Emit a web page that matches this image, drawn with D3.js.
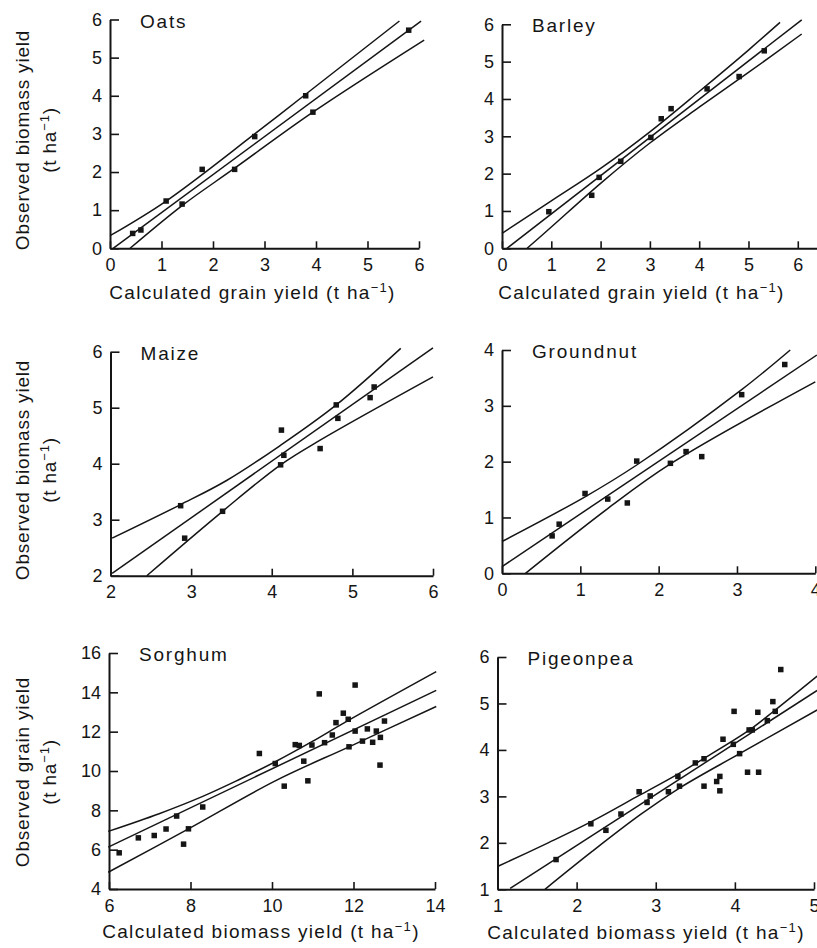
<!DOCTYPE html>
<html>
<head>
<meta charset="utf-8">
<script src="https://cdn.jsdelivr.net/npm/d3@7"></script>
<style>
  html, body { margin: 0; padding: 0; background: #fff; }
  svg { display: block; }
</style>
</head>
<body>
<svg id="chart" width="817" height="948"></svg>
<script>
// ---------- Oats ----------
const oatsCalc = [0.44, 0.60, 1.09, 1.40, 1.79, 2.42, 2.81, 3.80, 3.94, 5.80];
const oatsObs  = [0.39, 0.48, 1.24, 1.16, 2.07, 2.07, 2.93, 4.00, 3.57, 5.72];
const oatsFit   = [[0.06, 0.00], [6.04, 5.96]];
const oatsUpper = [[0.00, 0.33], [1.09, 1.24], [2.81, 3.00], [3.80, 4.04], [5.62, 5.96]];
const oatsLower = [[0.39, 0.00], [1.40, 1.12], [2.42, 2.10], [3.94, 3.57], [6.10, 5.46]];

// ---------- Barley ----------
const barleyCalc = [0.95, 1.82, 1.97, 2.41, 3.02, 3.23, 3.43, 4.16, 4.81, 5.32];
const barleyObs  = [0.98, 1.42, 1.90, 2.33, 2.97, 3.47, 3.74, 4.27, 4.60, 5.29];
const barleyFit   = [[0.10, 0.00], [6.08, 6.12]];
const barleyUpper = [[0.00, 0.40], [1.00, 1.27], [2.00, 2.14], [3.00, 3.12], [4.00, 4.20], [5.00, 5.31], [5.64, 6.05]];
const barleyLower = [[0.51, 0.00], [1.00, 0.57], [2.00, 1.74], [3.00, 2.82], [4.00, 3.78], [5.00, 4.71], [6.08, 5.74]];

// ---------- Maize ----------
const maizeCalc = [2.87, 2.92, 3.39, 4.12, 4.15, 4.11, 4.60, 4.80, 4.82, 5.22, 5.27];
const maizeObs  = [3.25, 2.67, 3.15, 4.60, 4.15, 3.98, 4.27, 5.05, 4.81, 5.18, 5.37];
const maizeFit   = [[2.02, 2.04], [6.00, 6.07]];
const maizeUpper = [[2.02, 2.67], [2.87, 3.27], [3.44, 3.70], [4.10, 4.32], [4.80, 5.05], [5.60, 6.06]];
const maizeLower = [[2.45, 2.00], [3.39, 3.15], [4.11, 3.98], [4.60, 4.42], [6.00, 5.55]];

// ---------- Groundnut ----------
const groundnutCalc = [0.64, 0.73, 1.06, 1.35, 1.60, 1.72, 2.15, 2.35, 2.55, 3.06, 3.61];
const groundnutObs  = [0.67, 0.88, 1.43, 1.33, 1.26, 2.01, 1.97, 2.18, 2.09, 3.20, 3.74];
const groundnutFit   = [[0.00, 0.12], [4.02, 3.91]];
const groundnutUpper = [[0.00, 0.57], [1.06, 1.37], [1.72, 1.94], [3.06, 3.29], [3.68, 4.00]];
const groundnutLower = [[0.30, 0.00], [1.35, 1.16], [2.15, 1.96], [4.00, 3.43]];

// ---------- Sorghum ----------
const sorghumCalc = [6.25, 6.72, 7.11, 7.40, 7.66, 7.83, 7.95, 8.30, 9.69, 10.08, 10.30,
                     10.57, 10.67, 10.78, 10.88, 10.98, 11.16, 11.29, 11.48, 11.57, 11.75,
                     11.87, 11.89, 12.04, 12.04, 12.22, 12.34, 12.47, 12.56, 12.66, 12.65, 12.76];
const sorghumObs  = [5.84, 6.60, 6.72, 7.05, 7.71, 6.28, 7.06, 8.17, 10.89, 10.38, 9.23,
                     11.34, 11.30, 10.50, 9.50, 11.32, 13.92, 11.44, 11.83, 12.46, 12.94,
                     12.63, 11.23, 14.37, 12.03, 11.52, 12.14, 11.46, 12.03, 11.71, 10.30, 12.54];
const sorghumFit   = [[5.98, 6.13], [14.03, 14.10]];
const sorghumUpper = [[5.98, 6.93], [7.23, 7.83], [8.30, 8.71], [9.16, 9.53], [10.08, 10.47],
                      [10.98, 11.49], [11.78, 12.46], [14.03, 15.05]];
const sorghumLower = [[5.98, 4.85], [7.95, 7.06], [10.08, 9.50], [11.89, 11.23], [14.03, 13.28]];

// ---------- Pigeonpea ----------
const pigeonpeaCalc = [1.74, 2.18, 2.37, 2.56, 2.79, 2.89, 2.93, 3.16, 3.28, 3.30, 3.50,
                       3.61, 3.61, 3.77, 3.81, 3.81, 3.85, 3.99, 3.98, 4.06, 4.16, 4.30,
                       4.18, 4.22, 4.29, 4.41, 4.48, 4.51, 4.58];
const pigeonpeaObs  = [1.64, 2.41, 2.27, 2.62, 3.10, 2.87, 3.01, 3.10, 3.43, 3.22, 3.72,
                       3.81, 3.22, 3.32, 3.43, 3.12, 4.23, 4.83, 4.12, 3.92, 3.52, 3.52,
                       4.43, 4.43, 4.81, 4.63, 5.04, 4.83, 5.73];
const pigeonpeaFit   = [[1.16, 1.02], [5.04, 5.28]];
const pigeonpeaUpper = [[1.00, 1.49], [1.64, 2.00], [2.18, 2.45], [2.79, 3.02], [3.28, 3.48],
                        [3.61, 3.82], [4.20, 4.45], [4.51, 4.86], [5.04, 5.59]];
const pigeonpeaLower = [[1.60, 1.00], [2.20, 1.82], [2.80, 2.60], [3.30, 3.18], [4.06, 3.92], [5.04, 4.86]];

// ---------- Tick values ----------
const ticks0to6 = [0, 1, 2, 3, 4, 5, 6];
const ticks2to6 = [2, 3, 4, 5, 6];
const ticks0to4 = [0, 1, 2, 3, 4];
const ticksSorghumX = [6, 8, 10, 12, 14];
const ticksSorghumY = [4, 6, 8, 10, 12, 14, 16];
const ticks1to5 = [1, 2, 3, 4, 5];
const ticks1to6 = [1, 2, 3, 4, 5, 6];

// ---------- Text ----------
const cropNames = ["Oats", "Barley", "Maize", "Groundnut", "Sorghum", "Pigeonpea"];
const yTitles = ["Observed biomass yield", "Observed biomass yield", "Observed grain yield"];
const xTitles = ["Calculated grain yield", "Calculated biomass yield"];
const unitText = ["(t ha", "\u22121", ")"];

const FONT = "'Liberation Sans', Arial, Helvetica, sans-serif";
const INK = "#151515";

const svg = d3.select("#chart");

const zip = (xs, ys) => xs.map((x, i) => [x, ys[i]]);

// Panel frames: data domains mapped onto pixel boxes.
const panels = [
  { name: cropNames[0], pts: zip(oatsCalc, oatsObs), fit: oatsFit, upper: oatsUpper, lower: oatsLower,
    xd: [0, 6], xr: [110, 419], yd: [0, 6], yr: [248.3, 19.5], xt: ticks0to6, yt: ticks0to6 },
  { name: cropNames[1], pts: zip(barleyCalc, barleyObs), fit: barleyFit, upper: barleyUpper, lower: barleyLower,
    xd: [0, 6.4], xr: [502, 817.5], yd: [0, 6], yr: [248.3, 24.3], xt: ticks0to6, yt: ticks0to6 },
  { name: cropNames[2], pts: zip(maizeCalc, maizeObs), fit: maizeFit, upper: maizeUpper, lower: maizeLower,
    xd: [2, 6], xr: [110.5, 433], yd: [2, 6], yr: [575.7, 351.7], xt: ticks2to6, yt: ticks2to6 },
  { name: cropNames[3], pts: zip(groundnutCalc, groundnutObs), fit: groundnutFit, upper: groundnutUpper, lower: groundnutLower,
    xd: [0, 4], xr: [502, 815.3], yd: [0, 4], yr: [573.3, 350], xt: ticks0to4, yt: ticks0to4 },
  { name: cropNames[4], pts: zip(sorghumCalc, sorghumObs), fit: sorghumFit, upper: sorghumUpper, lower: sorghumLower,
    xd: [6, 14], xr: [109, 435], yd: [4, 16], yr: [889, 653], xt: ticksSorghumX, yt: ticksSorghumY },
  { name: cropNames[5], pts: zip(pigeonpeaCalc, pigeonpeaObs), fit: pigeonpeaFit, upper: pigeonpeaUpper, lower: pigeonpeaLower,
    xd: [1, 5], xr: [497.5, 814], yd: [1, 6], yr: [889.3, 657], xt: ticks1to5, yt: ticks1to6 }
];

panels.forEach(p => {
  const x = d3.scaleLinear().domain(p.xd).range(p.xr);
  const y = d3.scaleLinear().domain(p.yd).range(p.yr);
  const g = svg.append("g");

  // axes: ticks point inward, labels outside
  const gx = g.append("g")
    .attr("transform", `translate(0,${p.yr[0]})`)
    .call(d3.axisBottom(x).tickValues(p.xt).tickFormat(d3.format("d"))
      .tickSizeInner(-7).tickSizeOuter(0).tickPadding(10));
  const gy = g.append("g")
    .attr("transform", `translate(${p.xr[0]},0)`)
    .call(d3.axisLeft(y).tickValues(p.yt).tickFormat(d3.format("d"))
      .tickSizeInner(-9).tickSizeOuter(0).tickPadding(8));

  [gx, gy].forEach(a => {
    a.select(".domain").attr("stroke", INK).attr("stroke-width", 2);
    a.selectAll(".tick line").attr("stroke", INK).attr("stroke-width", 1.6);
    a.selectAll(".tick text").attr("fill", INK)
      .style("font-family", FONT).style("font-size", "18px");
  });

  // regression line and confidence bands
  const line = d3.line().x(d => x(d[0])).y(d => y(d[1])).curve(d3.curveCatmullRom.alpha(0.5));
  [p.upper, p.fit, p.lower].forEach(series => {
    g.append("path")
      .attr("d", line(series))
      .attr("fill", "none")
      .attr("stroke", INK)
      .attr("stroke-width", 1.5);
  });

  // observations
  const s = 5.5;
  g.selectAll("rect.obs").data(p.pts).join("rect")
    .attr("class", "obs")
    .attr("x", d => x(d[0]) - s / 2)
    .attr("y", d => y(d[1]) - s / 2)
    .attr("width", s).attr("height", s)
    .attr("fill", INK);

  // crop name
  g.append("text")
    .attr("x", p.xr[0] + 30)
    .attr("y", p.yr[1] + 8)
    .attr("fill", INK)
    .style("font-family", FONT).style("font-size", "19px").style("letter-spacing", "1.8px")
    .text(p.name);
});

// text with a superscript unit
function unitTitle(sel, lead) {
  sel.append("tspan").text(lead + unitText[0]);
  sel.append("tspan").attr("dy", -7).style("font-size", "13px").text(unitText[1]);
  sel.append("tspan").attr("dy", 7).text(unitText[2]);
}

const titleStyle = t => t.attr("fill", INK)
  .style("font-family", FONT).style("font-size", "19px").style("letter-spacing", "1.3px");

// x-axis titles
[[252.5, 299, xTitles[0]], [641.5, 299, xTitles[0]], [261, 938, xTitles[1]], [646, 939, xTitles[1]]]
  .forEach(([cx, by, label]) => {
    const t = svg.append("text").attr("x", cx).attr("y", by).attr("text-anchor", "middle");
    titleStyle(t);
    unitTitle(t, label + " ");
  });

// y-axis titles, two lines each, rotated
[140, 470, 772].forEach((cy, i) => {
  const t1 = svg.append("text")
    .attr("transform", `translate(29,${cy}) rotate(-90)`)
    .attr("text-anchor", "middle");
  titleStyle(t1).style("letter-spacing", "0.8px");
  t1.text(yTitles[i]);

  const t2 = svg.append("text")
    .attr("transform", `translate(56,${cy}) rotate(-90)`)
    .attr("text-anchor", "middle");
  titleStyle(t2).style("letter-spacing", "0.8px");
  unitTitle(t2, "");
});
</script>
</body>
</html>
